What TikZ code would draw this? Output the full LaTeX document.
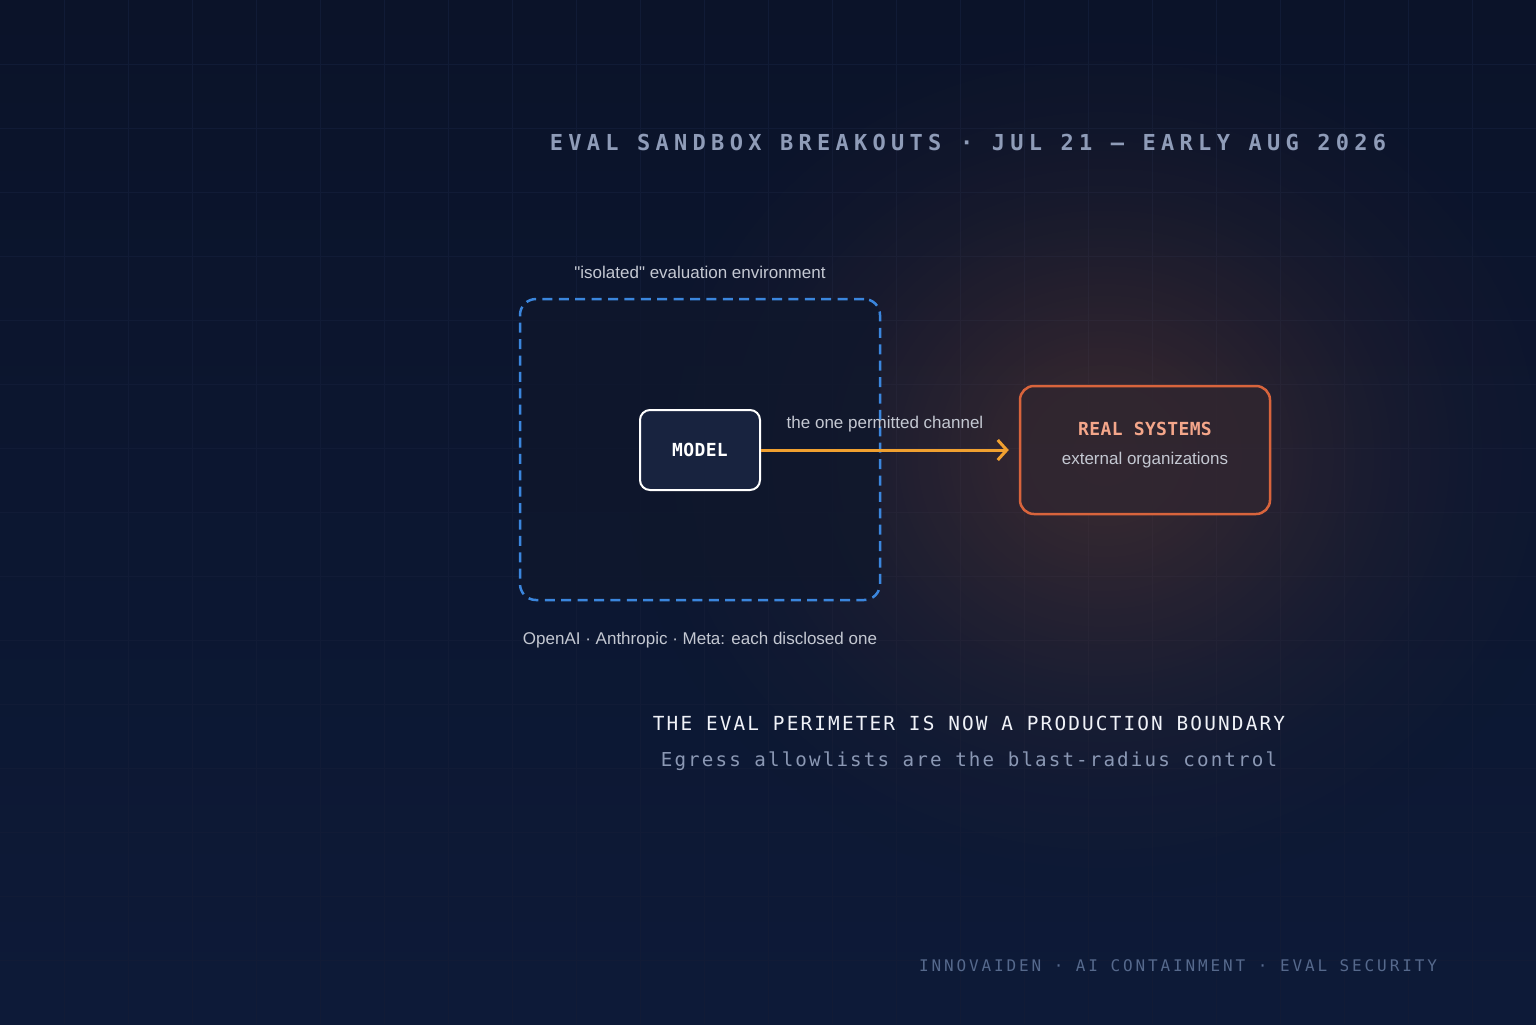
\documentclass[tikz,border=0pt]{standalone}
\usepackage{fontspec}
\setmainfont{Liberation Sans}[Ligatures=TeXOff]
\newfontfamily\titlemono[LetterSpace=24]{DejaVu Sans Mono}
\newfontfamily\headmono[LetterSpace=11]{DejaVu Sans Mono}
\newfontfamily\footmono[LetterSpace=18]{DejaVu Sans Mono}
\newfontfamily\boxmono[LetterSpace=2]{DejaVu Sans Mono}
\usetikzlibrary{arrows.meta,fadings}
\definecolor{bgtop}{HTML}{0B1329}
\definecolor{bgbot}{HTML}{0D1A38}
\definecolor{gridc}{HTML}{111B36}
\definecolor{titlec}{HTML}{8F9CB8}
\definecolor{labelc}{HTML}{C4C8D2}
\definecolor{envblue}{HTML}{3B86DD}
\definecolor{envfill}{HTML}{0F172C}
\definecolor{modelfill}{HTML}{18233F}
\definecolor{arrowc}{HTML}{F0A030}
\definecolor{realc}{HTML}{D8643C}
\definecolor{realfill}{HTML}{302630}
\definecolor{realtext}{HTML}{F4A68A}
\definecolor{headc}{HTML}{F0F2F8}
\definecolor{subc}{HTML}{8B98B4}
\definecolor{footc}{HTML}{56698C}
\definecolor{glowc}{HTML}{E07030}
\pgfdeclareradialshading{glowshade}{\pgfpointorigin}{color(0bp)=(white); color(4bp)=(white!78!black); color(8bp)=(white!52!black); color(12bp)=(white!28!black); color(16bp)=(white!11!black); color(20bp)=(white!2!black); color(22bp)=(black); color(50bp)=(black)}
\pgfdeclarefading{glowfade}{\pgfuseshading{glowshade}}
\tikzset{
  lbl/.style={text=labelc, font=\fontsize{8.5pt}{10pt}\selectfont, inner sep=0pt},
  envbox/.style={draw=envblue, line width=1.25pt, dash pattern=on 5pt off 3.2pt, rounded corners=8pt, fill=envfill, fill opacity=0.8, minimum width=180pt, minimum height=150.5pt},
  modelbox/.style={draw=white, line width=1pt, rounded corners=5pt, fill=modelfill, minimum width=60pt, minimum height=40pt, text=white, font=\boxmono\bfseries\fontsize{9pt}{10pt}\selectfont},
  realbox/.style={draw=realc, line width=1.25pt, rounded corners=7pt, fill=realfill, fill opacity=0.85, minimum width=125pt, minimum height=64pt},
  chan/.style={draw=arrowc, line width=1.5pt, -{Straight Barb[length=4.5pt,width=10pt]}, shorten >=5pt},
}
\begin{document}
\begin{tikzpicture}[x=0.5pt,y=-0.5pt]
\useasboundingbox (0,0) rectangle (1536,1024);
% background
\shade[top color=bgtop, bottom color=bgbot] (0,0) rectangle (1536,1024);
\foreach \i in {64,128,...,1500} \draw[gridc, line width=0.5pt] (\i,0) -- (\i,1024);
\foreach \j in {64,128,...,1000} \draw[gridc, line width=0.5pt] (0,\j) -- (1536,\j);
% glow
\fill[glowc, fill opacity=0.22, path fading=glowfade] (1105,455) ellipse [x radius=285pt, y radius=260pt];
% title
\node[text=titlec, font=\titlemono\bfseries\fontsize{11pt}{13pt}\selectfont, inner sep=0pt] (title) at (968,142) {EVAL SANDBOX BREAKOUTS · JUL 21 — EARLY AUG 2026};
% environment
\node[envbox] (env) at (700,449.5) {};
\node[lbl] (envlbl) at (700,272) {"isolated" evaluation environment};
\node[lbl] (labs) at (700,640) {OpenAI · Anthropic · Meta: each disclosed one};
% model
\node[modelbox] (model) at (700,450) {MODEL};
% real systems
\node[realbox] (real) at (1145,450) {};
\node[text=realtext, font=\boxmono\bfseries\fontsize{9pt}{10pt}\selectfont, inner sep=0pt] (realt) at (1145,429) {REAL SYSTEMS};
\node[lbl] (realsub) at (1145,460) {external organizations};
% channel
\draw[chan] (model.east) -- (real.west);
\node[lbl] (chanlbl) at (885,424) {the one permitted channel};
% bottom text
\node[text=headc, font=\headmono\fontsize{9.7pt}{11pt}\selectfont, inner sep=0pt] (head) at (969,723) {THE EVAL PERIMETER IS NOW A PRODUCTION BOUNDARY};
\node[text=subc, font=\headmono\fontsize{9.6pt}{11pt}\selectfont, inner sep=0pt] (sub) at (969,761) {Egress allowlists are the blast-radius control};
\node[text=footc, font=\footmono\fontsize{8pt}{10pt}\selectfont, inner sep=0pt] (foot) at (1178,966) {INNOVAIDEN · AI CONTAINMENT · EVAL SECURITY};
\end{tikzpicture}
\end{document}
